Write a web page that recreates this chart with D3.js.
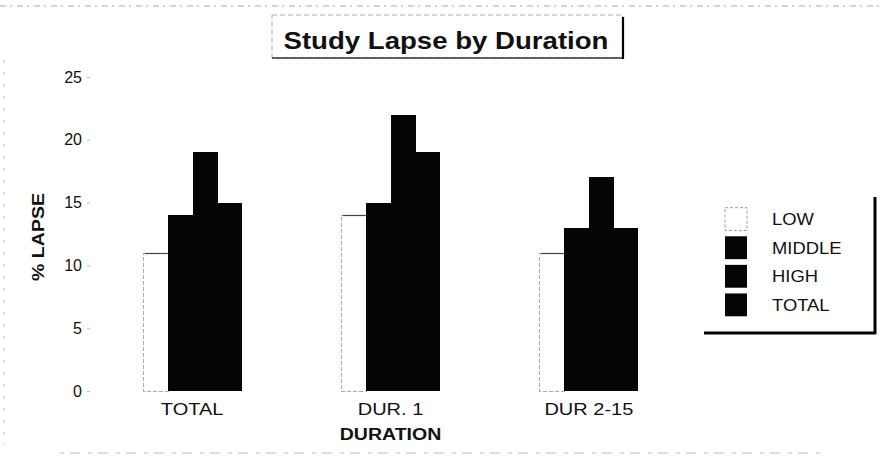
<!DOCTYPE html>
<html>
<head>
<meta charset="utf-8">
<script src="https://cdn.jsdelivr.net/npm/d3@7"></script>
<style>
  html, body { margin: 0; padding: 0; background: #fff; }
  svg { display: block; }
  text { font-family: "Liberation Sans", Arial, Helvetica, sans-serif; fill: #111; }
</style>
</head>
<body>
<svg id="chart" width="882" height="466"></svg>
<script>
// ---- data ----
const categories = ["TOTAL", "DUR. 1", "DUR 2-15"];
const seriesNames = ["LOW", "MIDDLE", "HIGH", "TOTAL"];
const lowValues = [11, 14, 11];
const middleValues = [14, 15, 13];
const highValues = [19, 22, 17];
const totalValues = [15, 19, 13];
const yTicks = [0, 5, 10, 15, 20, 25];
const titleText = "Study Lapse by Duration";
const xTitle = "DURATION";
const yTitle = "% LAPSE";

const seriesValues = [lowValues, middleValues, highValues, totalValues];
const rows = categories.map((c, i) => ({
  cat: c,
  vals: seriesNames.map((s, j) => ({ key: s, idx: j, value: seriesValues[j][i] }))
}));

const svg = d3.select("#chart");
const W = 882, H = 466;
const SX = 1.25; // horizontal stretch of the scanned lettering

svg.append("rect").attr("width", W).attr("height", H).attr("fill", "#fff");

function stretched(g, x, y, txt, opts) {
  const t = g.append("text")
    .attr("transform", `translate(${x},${y}) scale(${opts.sx || SX},1)`)
    .attr("text-anchor", opts.anchor || "middle")
    .attr("font-size", opts.size || 16)
    .attr("font-weight", opts.weight || "normal")
    .text(txt);
  return t;
}

// scan artifacts (faint borders of the page)
svg.append("line").attr("x1", 0).attr("x2", W).attr("y1", 6).attr("y2", 6)
  .attr("stroke", "#aaa").attr("stroke-width", 1).attr("stroke-dasharray", "6,4,2,5");
svg.append("line").attr("x1", 60).attr("x2", 820).attr("y1", 453).attr("y2", 453)
  .attr("stroke", "#bbb").attr("stroke-width", 1).attr("stroke-dasharray", "4,6,10,8");
svg.append("line").attr("x1", 4).attr("x2", 4).attr("y1", 60).attr("y2", 445)
  .attr("stroke", "#bbb").attr("stroke-width", 1).attr("stroke-dasharray", "3,9");

// ---- scales ----
const y = d3.scaleLinear().domain([0, 25]).range([391, 77]);
const x0 = d3.scaleBand().domain(categories).range([93, 688]).paddingInner(0.5).paddingOuter(0.25);
const x1 = d3.scaleBand().domain(seriesNames).range([0, x0.bandwidth()]).padding(0);
const fillFor = d3.scaleOrdinal().domain(seriesNames).range(["#ffffff", "#050505", "#050505", "#050505"]);

// ---- title box ----
const tg = svg.append("g");
tg.append("rect").attr("x", 272).attr("y", 15).attr("width", 351).attr("height", 43)
  .attr("fill", "none").attr("stroke", "#999").attr("stroke-width", 0.8).attr("stroke-dasharray", "5,3");
tg.append("line").attr("x1", 272).attr("x2", 624).attr("y1", 58).attr("y2", 58)
  .attr("stroke", "#333").attr("stroke-width", 1.5);
tg.append("line").attr("x1", 623).attr("x2", 623).attr("y1", 17).attr("y2", 59)
  .attr("stroke", "#000").attr("stroke-width", 2.2);
stretched(tg, 446, 49, titleText, { size: 23, weight: "bold", sx: 1.2 });

// ---- y axis ----
const yAxis = d3.axisLeft(y).tickValues(yTicks).tickSize(3).tickPadding(5).tickFormat(d3.format("d"));
const yg = svg.append("g").attr("transform", "translate(90,0)").call(yAxis);
yg.select(".domain").remove();
yg.selectAll(".tick line").attr("stroke", "#bbb");
yg.selectAll(".tick text")
  .attr("font-size", 16)
  .attr("fill", "#111")
  .attr("font-family", "Liberation Sans, Arial, sans-serif");

// y title
svg.append("text")
  .attr("transform", `translate(44,237) rotate(-90) scale(1.15,1)`)
  .attr("text-anchor", "middle")
  .attr("font-size", 17)
  .attr("font-weight", "bold")
  .text(yTitle);

// ---- bars ----
const groups = svg.append("g").selectAll("g").data(rows).join("g")
  .attr("transform", d => `translate(${Math.round(x0(d.cat))},0)`);

groups.selectAll("rect").data(d => d.vals).join("rect")
  .attr("shape-rendering", "crispEdges")
  .attr("x", d => Math.round(x1(d.key)))
  .attr("y", d => Math.round(y(d.value)))
  .attr("width", d => Math.round(x1(d.key) + x1.bandwidth()) - Math.round(x1(d.key)) + (d.idx > 0 && d.idx < 3 ? 1 : 0))
  .attr("height", d => Math.round(y(0)) - Math.round(y(d.value)))
  .attr("fill", d => fillFor(d.key))
  .attr("stroke", d => d.idx === 0 ? "#aaa" : "none")
  .attr("stroke-width", 1)
  .attr("stroke-dasharray", d => d.idx === 0 ? "4,2" : null);

// darker top edge on the LOW bars
groups.selectAll("line.top").data(d => d.vals.filter(v => v.idx === 0)).join("line")
  .attr("class", "top")
  .attr("x1", d => x1(d.key) + 2).attr("x2", d => x1(d.key) + x1.bandwidth())
  .attr("y1", d => Math.round(y(d.value)) + 0.5).attr("y2", d => Math.round(y(d.value)) + 0.5)
  .attr("stroke", "#444").attr("stroke-width", 1.2);

// ---- x axis labels ----
const xAxis = d3.axisBottom(x0).tickSize(0).tickPadding(0);
const xg = svg.append("g").attr("transform", "translate(0,391)").call(xAxis);
xg.select(".domain").remove();
xg.selectAll(".tick text").remove();
xg.selectAll(".tick").each(function(d) {
  stretched(d3.select(this), 0, 24, d, { size: 16 });
});

stretched(svg, x0("DUR. 1") + x0.bandwidth() / 2, 440, xTitle, { size: 17, weight: "bold", sx: 1.15 });

// ---- legend ----
const lg = svg.append("g");
const legY = d3.scaleBand().domain(seriesNames).range([202, 322]).padding(0.2);
lg.append("line").attr("x1", 875).attr("x2", 875).attr("y1", 197).attr("y2", 334)
  .attr("stroke", "#000").attr("stroke-width", 3);
lg.append("line").attr("x1", 704).attr("x2", 876).attr("y1", 333).attr("y2", 333)
  .attr("stroke", "#000").attr("stroke-width", 3);
const items = lg.selectAll("g").data(seriesNames).join("g")
  .attr("transform", d => `translate(0,${legY(d)})`);
items.append("rect")
  .attr("x", 725).attr("y", 0).attr("width", 22).attr("height", legY.bandwidth())
  .attr("fill", d => fillFor(d))
  .attr("stroke", d => d === "LOW" ? "#999" : "none")
  .attr("stroke-dasharray", d => d === "LOW" ? "3,2" : null);
items.each(function(d) {
  stretched(d3.select(this), 772, legY.bandwidth() / 2 + 6, d, { size: 16, anchor: "start", sx: 1.15 });
});
</script>
</body>
</html>
